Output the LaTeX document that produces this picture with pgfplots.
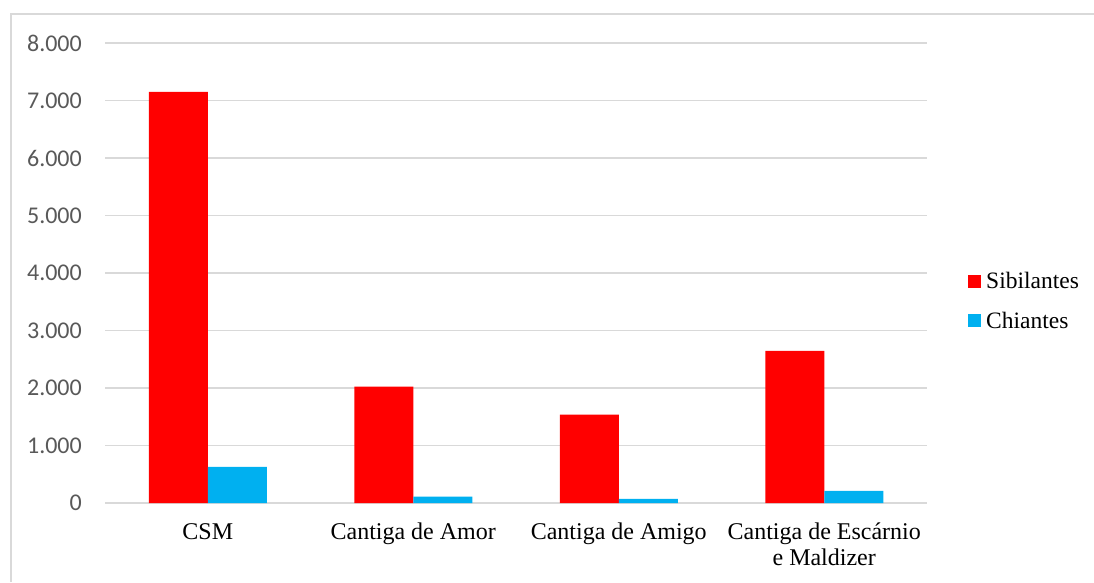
\documentclass[border=0pt]{standalone}
\usepackage{fontspec}
\setmainfont{Liberation Serif}
\newfontfamily\calibri{Carlito}
\usepackage{pgfplots}
\pgfplotsset{compat=1.18}
\definecolor{sibred}{HTML}{FF0000}
\definecolor{chicyan}{HTML}{00B0F0}
\definecolor{gridgray}{HTML}{D9D9D9}
\definecolor{labgray}{HTML}{595959}
\begin{document}
\begin{tikzpicture}[x=1pt,y=1pt]
\useasboundingbox (0,0) rectangle (1094,582);
\fill[white] (0,0) rectangle (1094,582);
\draw[gridgray, line width=1.5pt] (11,0) -- (11,568) -- (1094,568);
\begin{axis}[
  at={(105pt,79pt)}, anchor=south west,
  scale only axis, width=822pt, height=460pt,
  xmin=-0.5, xmax=3.5, ymin=0, ymax=8000,
  ybar=0pt, bar width=59pt,
  axis line style={draw=none},
  major tick length=0pt,
  xtick={0,1,2,3},
  xticklabels={CSM, Cantiga de Amor, Cantiga de Amigo, {Cantiga de Escárnio\\e Maldizer}},
  xticklabel style={font=\fontsize{24}{26}\selectfont, align=center, inner sep=0pt, anchor=north, yshift=-20pt, text=black},
  ytick={0,1000,...,8000},
  yticklabels={0,1.000,2.000,3.000,4.000,5.000,6.000,7.000,8.000},
  yticklabel style={font=\calibri\fontsize{24}{26}\selectfont, inner sep=0pt, anchor=east, xshift=-23pt, text=labgray},
  ymajorgrids, grid style={gridgray, line width=1.5pt},
  legend style={at={(1,0.5)}, anchor=west, xshift=38pt, yshift=-28pt, draw=none, fill=none,
    font=\fontsize{23.5}{26}\selectfont, row sep=22pt, column sep=5pt,
    nodes={inner sep=0pt, anchor=west}},
  legend cell align=left,
  legend image code/.code={\fill[#1] (0pt,-6.5pt) rectangle (13pt,6.5pt);},
  clip=false,
]
\addplot[fill=sibred, draw=none] coordinates {(0,7150) (1,2025) (2,1535) (3,2645)};
\addplot[fill=chicyan, draw=none] coordinates {(0,630) (1,110) (2,70) (3,210)};
\legend{Sibilantes, Chiantes}
\end{axis}
\end{tikzpicture}
\end{document}
